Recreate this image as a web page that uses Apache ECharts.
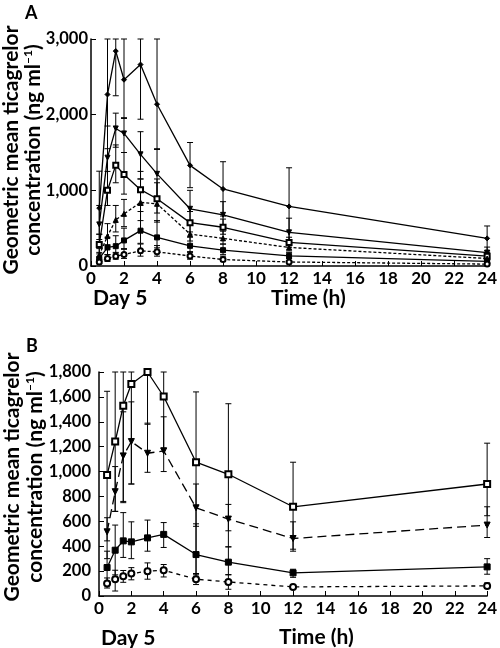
<!DOCTYPE html>
<html><head><meta charset="utf-8">
<script src="https://cdn.jsdelivr.net/npm/echarts@6/dist/echarts.min.js"></script>
<style>html,body{margin:0;padding:0;background:#fff}#c{width:500px;height:648px}</style>
</head><body><div id="c"></div>
<script>
// ---- data ----
const times = [0.5, 1, 1.5, 2, 3, 4, 6, 8, 12, 24];
const xTickLabels = [0, 2, 4, 6, 8, 10, 12, 14, 16, 18, 20, 22, 24];
const yTicksA = [0, 1000, 2000, 3000];
const yTicksB = [0, 200, 400, 600, 800, 1000, 1200, 1400, 1600, 1800];

// Panel A
const a1 = [765, 2267, 2840, 2462, 2662, 2138, 1330, 1018, 787, 365];
const a1Lo = [420, 1550, 2250, 1950, 1940, 1540, 1035, 660, 280, 200];
const a1Hi = [1253, 3000, 3000, 3000, 3000, 3000, 1632, 1378, 1298, 529];
const a2 = [550, 1432, 1818, 1752, 1476, 1218, 756, 676, 445, 178];
const a2Lo = [350, 1000, 1570, 1500, 1150, 900, 560, 520, 290, 110];
const a2Hi = [800, 1850, 2020, 1960, 1775, 1550, 1000, 850, 632, 250];
const a3 = [285, 1000, 1333, 1209, 1009, 889, 573, 512, 312, 130];
const a3Lo = [180, 800, 1100, 950, 800, 700, 450, 420, 250, 90];
const a3Hi = [420, 1250, 1600, 1500, 1250, 1100, 720, 620, 380, 180];
const a4 = [143, 396, 609, 689, 840, 822, 422, 365, 245, 99];
const a4Lo = [90, 280, 450, 520, 600, 580, 330, 290, 200, 70];
const a4Hi = [230, 560, 800, 880, 1150, 1150, 540, 460, 300, 130];
const a5 = [98, 245, 262, 338, 467, 378, 267, 209, 133, 60];
const a5Lo = [60, 150, 170, 230, 300, 240, 180, 150, 100, 40];
const a5Hi = [160, 380, 400, 500, 720, 600, 380, 290, 180, 90];
const a6 = [53, 98, 129, 152, 200, 187, 133, 85, 53, 25];
const a6Lo = [30, 60, 90, 100, 130, 130, 90, 60, 40, 10];
const a6Hi = [90, 150, 180, 220, 290, 270, 190, 130, 70, 40];

// Panel B
const b1 = [972, 1241, 1528, 1703, 1800, 1603, 1075, 978, 717, 900];
const b1Lo = [300, 680, 760, 900, 1380, 1190, 170, 395, 360, 645];
const b1Hi = [1645, 1800, 1800, 1800, 1800, 1800, 1640, 1545, 1075, 1228];
const b2 = [516, 838, 1126, 1241, 1147, 1166, 709, 618, 462, 570];
const b2Lo = [443, 680, 750, 900, 994, 1000, 560, 524, 376, 470];
const b2Hi = [629, 1040, 1480, 1560, 1389, 1440, 900, 736, 596, 717];
const b3 = [229, 368, 443, 435, 467, 495, 333, 272, 186, 234];
const b3Lo = [105, 170, 310, 300, 360, 390, 180, 170, 150, 175];
const b3Hi = [360, 570, 670, 596, 610, 590, 580, 395, 215, 300];
const b4 = [100, 135, 159, 180, 199, 207, 135, 113, 73, 81];
const b4Lo = [64, 40, 110, 130, 135, 153, 92, 54, 60, 60];
const b4Hi = [145, 207, 205, 228, 266, 253, 180, 172, 85, 105];

// ---- chart ----
const FONT = 'Lato, "DejaVu Sans", sans-serif';
const chart = echarts.init(document.getElementById('c'), null, {renderer: 'canvas'});
const fmt = v => v.toLocaleString('en-US');

function xAxisCfg(gi) {
  return {
    type: 'value', gridIndex: gi, min: 0, max: 24, interval: 2,
    axisLine: {lineStyle: {color: '#000', width: 1.5}},
    axisTick: {inside: true, length: 5, lineStyle: {color: '#000', width: 1}},
    axisLabel: {color: '#000', fontFamily: FONT, fontWeight: 'bold', fontSize: 17, margin: 4},
    splitLine: {show: false}
  };
}
function yAxisCfg(gi, max, interval, margin) {
  return {
    type: 'value', gridIndex: gi, min: 0, max: max, interval: interval,
    axisLine: {show: true, lineStyle: {color: '#000', width: 1.5}},
    axisTick: {show: true, inside: true, length: 5, lineStyle: {color: '#000', width: 1}},
    axisLabel: {color: '#000', fontFamily: FONT, fontWeight: 'bold', fontSize: 16.5, margin: margin, formatter: fmt},
    splitLine: {show: false}
  };
}
function lineSeries(gi, vals, symbol, dash, rotate, size) {
  return {
    type: 'line', xAxisIndex: gi, yAxisIndex: gi, z: 3,
    data: times.map((t, i) => [t, vals[i]]),
    symbol: symbol, symbolSize: size || 5, symbolRotate: rotate || 0,
    lineStyle: {color: '#000', width: 1.3, type: dash || 'solid'},
    itemStyle: {color: '#000', borderColor: '#000', borderWidth: 1},
    clip: false
  };
}
function errSeries(gi, lo, hi) {
  return {
    type: 'custom', xAxisIndex: gi, yAxisIndex: gi, z: 2, silent: true,
    data: times.map((t, i) => [t, lo[i], hi[i]]),
    encode: {x: 0, y: [1, 2]},
    renderItem: (params, api) => {
      const x = api.value(0);
      const l = api.coord([x, api.value(1)]);
      const h = api.coord([x, api.value(2)]);
      const w = 3;
      const st = {stroke: '#000', lineWidth: 1};
      return {type: 'group', children: [
        {type: 'line', shape: {x1: l[0], y1: l[1], x2: h[0], y2: h[1]}, style: st},
        {type: 'line', shape: {x1: l[0] - w, y1: l[1], x2: l[0] + w, y2: l[1]}, style: st},
        {type: 'line', shape: {x1: h[0] - w, y1: h[1], x2: h[0] + w, y2: h[1]}, style: st}
      ]};
    }
  };
}
function ytitle(x1, x2, cy) {
  const base = {fontFamily: FONT, fontWeight: 'bold', fontSize: 21, fill: '#000'};
  return [
    {type: 'text', x: x1, y: cy, rotation: Math.PI / 2,
     style: Object.assign({text: 'Geometric mean ticagrelor', align: 'center', verticalAlign: 'middle'}, base)},
    {type: 'text', x: x2, y: cy, rotation: Math.PI / 2,
     style: Object.assign({text: '{a|concentration (ng ml}{s|–1}{a|)}', align: 'center', verticalAlign: 'middle',
       rich: {a: Object.assign({}, base), s: {fontFamily: FONT, fontWeight: 'bold', fontSize: 12, fill: '#000', verticalAlign: 'top', padding: [0, 0, 9, 0]}}}, base)}
  ];
}
function label(text, x, y, size, align) {
  return {type: 'text', x: x, y: y, style: {text: text, fontFamily: FONT, fontWeight: 'bold', fontSize: size, fill: '#000', align: align || 'left', verticalAlign: 'middle'}};
}

const option = {
  animation: false,
  backgroundColor: '#fff',
  grid: [
    {left: 91, top: 39, width: 397, height: 227},
    {left: 99, top: 372, width: 392, height: 224}
  ],
  xAxis: [xAxisCfg(0), xAxisCfg(1)],
  yAxis: [yAxisCfg(0, 3000, 1000, 3), yAxisCfg(1, 1800, 200, 8)],
  series: [
    errSeries(0, a1Lo, a1Hi), errSeries(0, a2Lo, a2Hi), errSeries(0, a3Lo, a3Hi),
    errSeries(0, a4Lo, a4Hi), errSeries(0, a5Lo, a5Hi), errSeries(0, a6Lo, a6Hi),
    lineSeries(0, a1, 'diamond'),
    lineSeries(0, a2, 'triangle', 'solid', 180),
    lineSeries(0, a3, 'emptyRect'),
    lineSeries(0, a4, 'triangle', [3, 2]),
    lineSeries(0, a5, 'rect'),
    lineSeries(0, a6, 'emptyCircle', [3, 2]),
    errSeries(1, b1Lo, b1Hi), errSeries(1, b2Lo, b2Hi), errSeries(1, b3Lo, b3Hi), errSeries(1, b4Lo, b4Hi),
    lineSeries(1, b1, 'emptyRect', 'solid', 0, 6),
    lineSeries(1, b2, 'triangle', [9, 5], 180, 6),
    lineSeries(1, b3, 'rect', 'solid', 0, 6),
    lineSeries(1, b4, 'emptyCircle', [4, 4], 0, 6)
  ],
  graphic: [].concat(
    [label('A', 25, 13, 18), label('B', 26, 346, 18)],
    ytitle(11, 33, 150),
    ytitle(12, 35, 477),
    [label('Day 5', 93, 298, 21), label('Time (h)', 271, 298, 21),
     label('Day 5', 101, 638, 21), label('Time (h)', 279, 637, 21)]
  )
};
chart.setOption(option);
</script>
</body></html>
